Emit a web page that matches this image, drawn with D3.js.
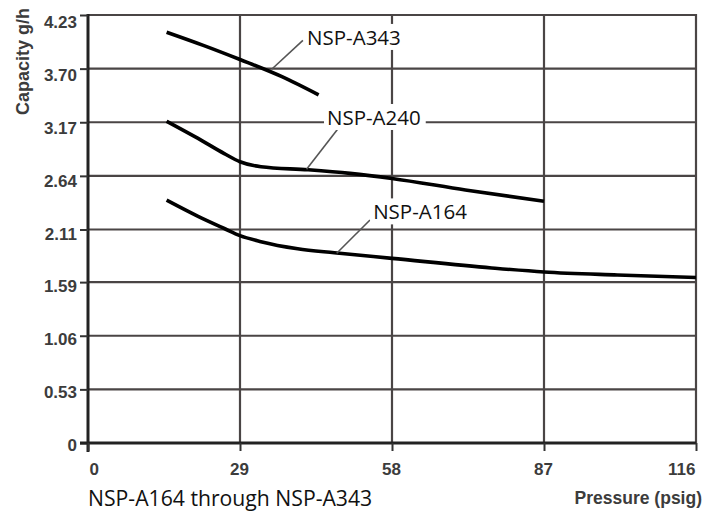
<!DOCTYPE html>
<html><head><meta charset="utf-8">
<script src="https://cdn.jsdelivr.net/npm/d3@7"></script>
<style>html,body{margin:0;padding:0;background:#fff;}svg{display:block;}</style>
</head><body>
<script>
// ---- data ----
const xTicks = [0, 29, 58, 87, 116];
const yTicks = [0, 0.53, 1.06, 1.59, 2.11, 2.64, 3.17, 3.70, 4.23];
const seriesNames = ["NSP-A343", "NSP-A240", "NSP-A164"];
const pressureA343 = [15, 22, 29, 37, 44];
const capacityA343 = [4.06, 3.93, 3.79, 3.62, 3.44];
const pressureA240 = [15, 21, 26, 29, 33, 42, 50, 58, 72, 87];
const capacityA240 = [3.18, 3.01, 2.86, 2.78, 2.73, 2.70, 2.665, 2.615, 2.50, 2.39];
const pressureA164 = [15, 21, 26, 29, 33, 40, 47, 58, 77, 87, 101, 116];
const capacityA164 = [2.40, 2.24, 2.12, 2.05, 1.99, 1.92, 1.88, 1.825, 1.73, 1.69, 1.66, 1.635];
// label anchors in data units: text start, leader start, leader end (on curve)
const labelA343 = [41.8, 3.934], labelA240 = [45.6, 3.143], labelA164 = [54.4, 2.21];
const leaderA343 = [[41.0, 3.98], [35.1, 3.696]];
const leaderA240 = [[48.1, 3.133], [41.7, 2.705]];
const leaderA164 = [[53.8, 2.204], [47.45, 1.875]];
const yTitle = "Capacity g/h", xTitle = "Pressure (psig)", footnote = "NSP-A164 through NSP-A343";

const W = 720, H = 514;
const svg = d3.select("body").append("svg").attr("width", W).attr("height", H);
svg.append("rect").attr("width", W).attr("height", H).attr("fill", "#fff");

const x = d3.scaleLinear().domain([0, 116]).range([88, 696]);
const y = d3.scaleLinear().domain([0, 4.23]).range([443, 15]);
const yLab = d3.scaleLinear().domain([0, 4.23]).range([444.5, 21.5]);

const gridColor = "#4a4545";
// horizontal grid
svg.append("g").selectAll("line").data(yTicks.filter(d => d > 0)).join("line")
  .attr("x1", x(0)).attr("x2", x(116)).attr("y1", d => y(d)).attr("y2", d => y(d))
  .attr("stroke", gridColor).attr("stroke-width", 2.2);
// vertical grid
svg.append("g").selectAll("line").data(xTicks.filter(d => d > 0)).join("line")
  .attr("x1", d => x(d)).attr("x2", d => x(d)).attr("y1", y(4.23) - 1).attr("y2", y(0))
  .attr("stroke", gridColor).attr("stroke-width", 2.2);

const tickFont = "'Liberation Sans', Arial, sans-serif";
// left axis
const gy = svg.append("g").attr("transform", `translate(${x(0)},0)`)
  .call(d3.axisLeft(y).tickValues(yTicks).tickSize(8).tickPadding(3)
    .tickFormat(d => d === 0 ? "0" : d.toFixed(2)));
gy.select(".domain").attr("stroke", "#222").attr("stroke-width", 3)
  .attr("d", `M0,${y(4.23) - 1}V${y(0) + 9}`);
gy.selectAll(".tick line").attr("stroke", "#333").attr("stroke-width", 2);
gy.selectAll(".tick text").attr("font-family", tickFont).attr("font-size", 17)
  .attr("font-weight", "bold").attr("fill", "#3c3c3c")
  .attr("dy", d => (yLab(d) - y(d)) + "px").attr("dominant-baseline", "central").attr("x", -11);

// bottom axis
const gx = svg.append("g").attr("transform", `translate(0,${y(0)})`)
  .call(d3.axisBottom(x).tickValues(xTicks).tickSize(8).tickPadding(12));
gx.select(".domain").attr("stroke", "#222").attr("stroke-width", 3)
  .attr("d", `M${x(0) - 8},0H${x(116)}`);
gx.selectAll(".tick line").attr("stroke", "#333").attr("stroke-width", 2);
gx.selectAll(".tick text").attr("font-family", tickFont).attr("font-size", 17)
  .attr("font-weight", "bold").attr("fill", "#3c3c3c")
  .attr("text-anchor", (d, i) => i === 0 ? "start" : (i === xTicks.length - 1 ? "end" : "middle"))
  .attr("dx", (d, i) => i === 0 ? 1 : -1);

// curves
const line = d3.line().x(d => x(d[0])).y(d => y(d[1])).curve(d3.curveMonotoneX);
const series = [
  d3.zip(pressureA343, capacityA343),
  d3.zip(pressureA240, capacityA240),
  d3.zip(pressureA164, capacityA164)
];
svg.append("g").selectAll("path").data(series).join("path")
  .attr("d", line).attr("fill", "none").attr("stroke", "#000")
  .attr("stroke-width", 3.6).attr("stroke-linecap", "butt");

// leaders
const leaders = [leaderA343, leaderA240, leaderA164];
svg.append("g").selectAll("line").data(leaders).join("line")
  .attr("x1", d => x(d[0][0])).attr("y1", d => y(d[0][1]))
  .attr("x2", d => x(d[1][0])).attr("y2", d => y(d[1][1]))
  .attr("stroke", "#555").attr("stroke-width", 1.6);

// labels
const labelFont = "'Open Sans', 'Noto Sans', sans-serif";
const labels = [labelA343, labelA240, labelA164];
const lg = svg.append("g");
labels.forEach((p, i) => {
  const t = lg.append("text").attr("x", x(p[0])).attr("y", y(p[1]))
    .attr("font-family", labelFont).attr("font-size", 20.5).attr("fill", "#111")
    .text(seriesNames[i]);
  const bb = t.node().getBBox();
  lg.insert("rect", "text").attr("x", bb.x - 3).attr("y", bb.y + 1)
    .attr("width", bb.width + 8).attr("height", bb.height - 2).attr("fill", "#fff");
});

// y title
svg.append("text").attr("transform", `translate(29,8) rotate(-90)`)
  .attr("text-anchor", "end").attr("font-family", tickFont).attr("font-size", 18)
  .attr("font-weight", "bold").attr("fill", "#3c3c3c").text(yTitle);
// x title
svg.append("text").attr("x", 702).attr("y", 504).attr("text-anchor", "end")
  .attr("font-family", tickFont).attr("font-size", 17.5).attr("font-weight", "bold")
  .attr("fill", "#3c3c3c").text(xTitle);
// footnote
svg.append("text").attr("x", 88).attr("y", 506)
  .attr("font-family", labelFont).attr("font-size", 21.2).attr("fill", "#111").text(footnote);
</script>
</body></html>
